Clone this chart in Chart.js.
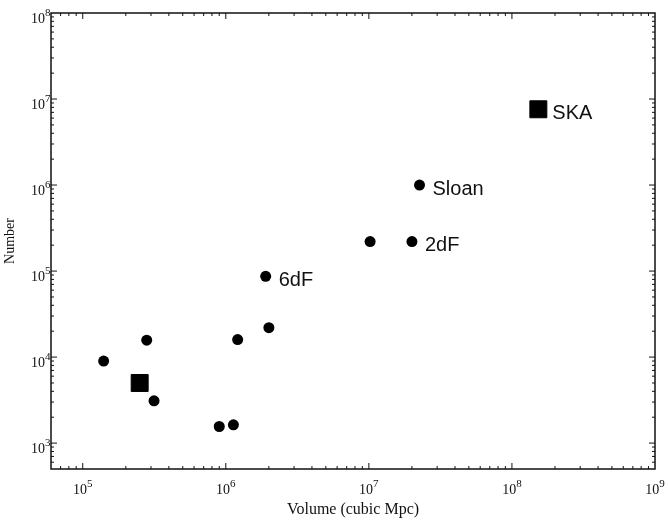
<!DOCTYPE html>
<html lang="en">
<head>
  <meta charset="UTF-8" />
  <title>Number vs Volume</title>
  <script src="https://cdn.jsdelivr.net/npm/chart.js"></script>
  <style>
    html, body { margin: 0; padding: 0; background: #fff; }
    .wrap { width: 668px; height: 522px; position: relative; }
  </style>
</head>
<body>
  <div class="wrap"><canvas id="chart"></canvas></div>

  <script>
    // surveys (filled circles)
    const surveyVolume = [1.4e5, 2.8e5, 3.15e5, 9.0e5, 1.13e6, 1.21e6, 2.0e6, 1.9e6, 1.02e7, 2.0e7, 2.26e7];
    const surveyNumber = [9.0e3, 1.57e4, 3.1e3, 1.56e3, 1.63e3, 1.6e4, 2.2e4, 8.7e4, 2.2e5, 2.2e5, 1.0e6];
    const surveyLabels = ["", "", "", "", "", "", "", "6dF", "", "2dF", "Sloan"];

    // SKA (filled squares)
    const skaVolume = [2.5e5, 1.53e8];
    const skaNumber = [5.0e3, 7.6e6];
    const skaLabels = ["", "SKA"];

    // axis ticks: value and the power shown as superscript after "10"
    const xTickValues = [1e5, 1e6, 1e7, 1e8, 1e9];
    const xTickPowers = ["5", "6", "7", "8", "9"];
    const yTickValues = [1e3, 1e4, 1e5, 1e6, 1e7, 1e8];
    const yTickPowers = ["3", "4", "5", "6", "7", "8"];

    const serif = "'Liberation Serif', 'Times New Roman', serif";

    // box round the plot, with inward major/minor ticks on all four sides
    const frameTicks = {
      id: "frameTicks",
      afterDraw(chart) {
        const { ctx, chartArea: a, scales: { x, y } } = chart;
        ctx.save();
        ctx.strokeStyle = "#111";
        ctx.lineWidth = 1.5;
        ctx.strokeRect(a.left, a.top, a.right - a.left, a.bottom - a.top);
        ctx.lineWidth = 1;
        const seg = (x1, y1, x2, y2) => {
          ctx.beginPath(); ctx.moveTo(x1, y1); ctx.lineTo(x2, y2); ctx.stroke();
        };
        for (let e = 2; e <= 9; e++) {
          for (let m = 1; m <= 9; m++) {
            const v = m * Math.pow(10, e);
            const len = m === 1 ? 6 : 3;
            if (v > x.min && v < x.max) {
              const px = x.getPixelForValue(v);
              seg(px, a.bottom, px, a.bottom - len);
              seg(px, a.top, px, a.top + len);
            }
            if (v > y.min && v < y.max) {
              const py = y.getPixelForValue(v);
              seg(a.left, py, a.left + len, py);
              seg(a.right, py, a.right - len, py);
            }
          }
        }

        // tick labels "10" + superscript power
        ctx.fillStyle = "#111";
        ctx.textBaseline = "alphabetic";
        const big = "14px " + serif, small = "11px " + serif;
        xTickValues.forEach((v, i) => {
          const px = x.getPixelForValue(v);
          ctx.font = big;
          const bw = ctx.measureText("10").width;
          ctx.font = small;
          const ew = ctx.measureText(xTickPowers[i]).width;
          const x0 = px - (bw + ew) / 2;
          ctx.font = big;
          ctx.textAlign = "left";
          ctx.fillText("10", x0, a.bottom + 25);
          ctx.font = small;
          ctx.fillText(xTickPowers[i], x0 + bw, a.bottom + 18);
        });
        yTickValues.forEach((v, i) => {
          const py = y.getPixelForValue(v);
          ctx.font = big;
          ctx.textAlign = "right";
          ctx.fillText("10", a.left - 6, py + 10);
          ctx.font = small;
          ctx.textAlign = "left";
          ctx.fillText(yTickPowers[i], a.left - 6, py + 3);
        });
        ctx.restore();
      }
    };

    // names next to the labelled points
    const pointNames = {
      id: "pointNames",
      afterDatasetsDraw(chart) {
        const ctx = chart.ctx;
        ctx.save();
        ctx.font = "20px 'Liberation Sans', Arial, sans-serif";
        ctx.fillStyle = "#111";
        ctx.textBaseline = "middle";
        chart.data.datasets.forEach((ds, di) => {
          const meta = chart.getDatasetMeta(di);
          meta.data.forEach((pt, i) => {
            const name = ds.names[i];
            if (!name) return;
            const dx = ds.pointStyle === "rect" ? 14 : 13;
            ctx.fillText(name, pt.x + dx, pt.y + 4);
          });
        });
        ctx.restore();
      }
    };

    new Chart(document.getElementById("chart"), {
      type: "scatter",
      data: {
        datasets: [
          {
            label: "surveys",
            data: surveyVolume.map((v, i) => ({ x: v, y: surveyNumber[i] })),
            names: surveyLabels,
            pointStyle: "circle",
            pointRadius: 5.5,
            backgroundColor: "#000",
            borderColor: "#000",
            borderWidth: 0
          },
          {
            label: "SKA",
            data: skaVolume.map((v, i) => ({ x: v, y: skaNumber[i] })),
            names: skaLabels,
            pointStyle: "rect",
            pointRadius: 12,
            backgroundColor: "#000",
            borderColor: "#000",
            borderWidth: 1
          }
        ]
      },
      options: {
        responsive: true,
        maintainAspectRatio: false,
        animation: false,
        events: [],
        layout: { padding: { top: 8, right: 9, left: 0, bottom: 0 } },
        plugins: {
          legend: { display: false },
          tooltip: { enabled: false }
        },
        scales: {
          x: {
            type: "logarithmic",
            min: 6e4,
            max: 1e9,
            grid: { display: false },
            border: { display: false },
            ticks: { display: false },
            afterFit: s => { s.height = 53; },
            title: {
              display: true,
              text: "Volume (cubic Mpc)",
              color: "#111",
              font: { family: serif, size: 16 },
              padding: { top: 0, bottom: 3 }
            }
          },
          y: {
            type: "logarithmic",
            min: 500,
            max: 1e8,
            grid: { display: false },
            border: { display: false },
            ticks: { display: false },
            afterFit: s => { s.width = 51; },
            title: {
              display: true,
              text: "Number",
              color: "#111",
              font: { family: serif, size: 14 },
              padding: { top: 2, bottom: 0 }
            }
          }
        }
      },
      plugins: [frameTicks, pointNames]
    });
  </script>
</body>
</html>
